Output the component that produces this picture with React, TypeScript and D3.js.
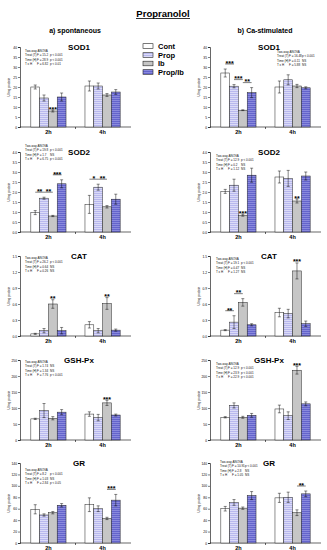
import { useRef, useEffect } from "react";
import { select, scaleBand, scaleLinear, axisLeft, range, max } from "d3";

const groups = ["2h", "4h"];
const treatments = ["Cont", "Prop", "Ib", "Prop/Ib"];
const enzymes = ["SOD1", "SOD2", "CAT", "GSH-Px", "GR"];

// y axis per enzyme: max, step, decimals
const yMax = [40, 4, 1.5, 250, 140];
const yStep = [5, 0.5, 0.3, 50, 20];
const yDec = [0, 1, 1, 0, 0];

// a) spontaneous  -> [2h values, 4h values]
const spMean = [
  [[20, 14.5, 8, 15], [20.5, 20.5, 16, 17.5]],
  [[0.97, 1.69, 0.8, 2.41], [1.38, 2.24, 1.26, 1.64]],
  [[0.04, 0.1, 0.6, 0.1], [0.21, 0.1, 0.61, 0.11]],
  [[66, 92, 68, 87], [81, 70, 116, 78]],
  [[59, 49, 53, 66], [67, 60, 43, 75]],
];
const spSem = [
  [[1, 1.5, 0.5, 2], [2.5, 1.5, 0.7, 1.2]],
  [[0.1, 0.05, 0.03, 0.2], [0.45, 0.15, 0.06, 0.25]],
  [[0.01, 0.04, 0.08, 0.06], [0.06, 0.04, 0.11, 0.02]],
  [[2, 22, 5, 8], [7, 10, 8, 3]],
  [[8, 2, 2, 3], [12, 5, 2, 10]],
];
// b) Ca-stimulated
const caMean = [
  [[27, 20.4, 8.4, 17.2], [20, 23.6, 20.5, 19.6]],
  [[2.03, 2.34, 0.84, 2.84], [2.75, 2.68, 1.55, 2.8]],
  [[0.11, 0.26, 0.63, 0.21], [0.44, 0.42, 1.22, 0.23]],
  [[71, 108, 71, 77], [97, 76, 218, 113]],
  [[60, 71, 61, 83], [79, 80, 53, 86]],
];
const caSem = [
  [[2, 0.8, 0.2, 2.5], [3, 2.5, 0.8, 0.5]],
  [[0.1, 0.3, 0.05, 0.35], [0.3, 0.4, 0.1, 0.2]],
  [[0.01, 0.12, 0.07, 0.02], [0.08, 0.08, 0.15, 0.05]],
  [[2, 8, 3, 6], [12, 12, 12, 6]],
  [[4, 5, 2, 7], [8, 9, 5, 5]],
];

const spAnova = [
  ["Treat (T)|F = 15.2|p < 0.001", "Time (H)|F = 28.9|p < 0.001", "T x H|F = 6.82|p < 0.01"],
  ["Treat (T)|F = 19.8|p < 0.001", "Time (H)|F = 1.7|NS", "T x H|F = 6.75|p < 0.001"],
  ["Treat (T)|F = 26.2|p < 0.001", "Time (H)|F = 0.64|NS", "T x H|F = 0.26|NS"],
  ["Treat (T)|F = 1.74|NS", "Time (H)|F = 1.34|NS", "T x H|F = 7.76|p < 0.001"],
  ["Treat (T)|F = 8.2|p < 0.001", "Time (H)|F = 1.03|NS", "T x H|F = 2.84|p < 0.05"],
];
const caAnova = [
  ["Treat (T)|F = 16.48|p < 0.001", "Time (H)|F = 0.11|NS", "T x H|F = 5.88|NS"],
  ["Treat (T)|F = 12.9|p < 0.001", "Time (H)|F = 0.2|NS", "T x H|F = 1.12|NS"],
  ["Treat (T)|F = 19.1|p < 0.001", "Time (H)|F = 0.47|NS", "T x H|F = 1.27|NS"],
  ["Treat (T)|F = 12.9|p < 0.001", "Time (H)|F = 23.9|p < 0.001", "T x H|F = 22.9|p < 0.001"],
  ["Treat (T)|F = 10.91|p < 0.001", "Time (H)|F = 2.8|NS", "T x H|F = 1.05|NS"],
];

// significance: [group, from, to, label]
const spSig = [
  [["2h", "Ib", "Ib", "***"]],
  [["2h", "Cont", "Prop", "**"], ["2h", "Prop", "Ib", "**"], ["2h", "Ib", "Prop/Ib", "***"], ["4h", "Cont", "Prop", "*"], ["4h", "Prop", "Ib", "**"]],
  [["2h", "Ib", "Ib", "**"], ["4h", "Ib", "Ib", "**"]],
  [["4h", "Ib", "Ib", "***"]],
  [["4h", "Ib", "Prop/Ib", "***"]],
];
const caSig = [
  [["2h", "Cont", "Prop", "***"], ["2h", "Prop", "Ib", "***"], ["2h", "Ib", "Prop/Ib", "**"]],
  [["2h", "Ib", "Ib", "***"], ["4h", "Ib", "Ib", "**"]],
  [["2h", "Cont", "Prop", "**"], ["2h", "Prop", "Ib", "**"], ["4h", "Ib", "Ib", "***"]],
  [["4h", "Ib", "Ib", "***"]],
  [["4h", "Ib", "Prop/Ib", "**"]],
];

const font = "Arial, 'Liberation Sans', sans-serif";
const baselines = [127, 232, 336, 440, 543];
const plotH = 80;
const plotW = 111;
const cols = [
  { x0: 20, title: "a) spontaneous", mean: spMean, sem: spSem, anova: spAnova, sig: spSig, ax: [25, 25, 25, 25, 25], ay: [-76, -86, -78, -78, -73] },
  { x0: 210, title: "b) Ca-stimulated", mean: caMean, sem: caSem, anova: caAnova, sig: caSig, ax: [277, 216, 216, 216, 220], ay: [-75, -76, -77, -76, -81] },
];

const fills = { Cont: "#ffffff", Prop: "url(#pProp)", Ib: "#c6c6c6", "Prop/Ib": "url(#pPropIb)" };

const draw = (ref: SVGSVGElement) => {
  const svg = select(ref);
  svg.selectAll("*").remove();

  const defs = svg.append("defs");
  const pat = (id: string, base: string, line: string) => {
    const p = defs.append("pattern").attr("id", id).attr("patternUnits", "userSpaceOnUse").attr("width", 4).attr("height", 2);
    p.append("rect").attr("width", 4).attr("height", 2).attr("fill", base);
    p.append("rect").attr("y", 0).attr("width", 4).attr("height", 0.8).attr("fill", line);
  };
  pat("pProp", "#b8b8ee", "#e4e4fa");
  pat("pPropIb", "#6464cc", "#9292e2");

  svg.style("font-family", font);

  // title
  svg.append("text").attr("x", 163).attr("y", 16.5).attr("text-anchor", "middle")
    .attr("font-size", 9.5).attr("font-weight", 700).text("Propranolol");
  svg.append("line").attr("x1", 136).attr("x2", 190).attr("y1", 18.5).attr("y2", 18.5).attr("stroke", "#000").attr("stroke-width", 0.8);

  // legend
  const leg = svg.append("g");
  treatments.forEach((t, i) => {
    const y = [46, 55, 63.5, 72][i];
    leg.append("rect").attr("x", 143).attr("y", y - 2.3).attr("width", 10).attr("height", 4.6)
      .attr("fill", fills[t]).attr("stroke", "#222").attr("stroke-width", 0.6);
    leg.append("text").attr("x", 158).attr("y", y + 2.8).attr("font-size", 7.5).attr("font-weight", 700).text(t);
  });

  cols.forEach((c) => {
    svg.append("text").attr("x", c.x0 + 55).attr("y", 32.5).attr("text-anchor", "middle")
      .attr("font-size", 7).attr("font-weight", 700).text(c.title);

    const gx = scaleBand().domain(groups).range([c.x0, c.x0 + plotW]).paddingInner(0.35).paddingOuter(0.2);
    const bx = scaleBand().domain(treatments).range([0, gx.bandwidth()]).padding(0);

    enzymes.forEach((enz, ei) => {
      const base = baselines[ei];
      const y = scaleLinear().domain([0, yMax[ei]]).range([base, base - plotH]);
      const g = svg.append("g");

      // title
      g.append("text").attr("x", c.x0 + 59).attr("y", base - plotH + 3).attr("text-anchor", "middle")
        .attr("font-size", 8).attr("font-weight", 700).text(enz);

      // y axis
      const ticks = range(0, yMax[ei] + yStep[ei] / 2, yStep[ei]);
      const ya = g.append("g").attr("transform", `translate(${c.x0},0)`)
        .call(axisLeft(y).tickValues(ticks).tickSize(2).tickPadding(1).tickFormat((d: any) => d.toFixed(yDec[ei])));
      ya.select(".domain").attr("stroke-width", 0.6);
      ya.selectAll(".tick line").attr("stroke-width", 0.5);
      ya.selectAll("text").attr("font-size", 3.3).attr("font-family", font);

      g.append("text").attr("transform", `translate(${c.x0 - 10},${base - plotH / 2}) rotate(-90)`)
        .attr("text-anchor", "middle").attr("font-size", 3.3).text("U/mg protein");

      // x axis
      g.append("line").attr("x1", c.x0).attr("x2", c.x0 + plotW).attr("y1", base).attr("y2", base)
        .attr("stroke", "#000").attr("stroke-width", 0.6);
      const mid = ((gx("2h") as number) + gx.bandwidth() + (gx("4h") as number)) / 2;
      g.append("line").attr("x1", mid).attr("x2", mid).attr("y1", base).attr("y2", base + 2)
        .attr("stroke", "#000").attr("stroke-width", 0.6);
      groups.forEach((gr) => {
        g.append("text").attr("x", (gx(gr) as number) + gx.bandwidth() / 2).attr("y", base + 7)
          .attr("text-anchor", "middle").attr("font-size", 5.5).attr("font-weight", 700).text(gr);
      });

      // bars
      groups.forEach((gr, gi) => {
        treatments.forEach((t, ti) => {
          const m = c.mean[ei][gi][ti];
          const s = c.sem[ei][gi][ti];
          const x = (gx(gr) as number) + (bx(t) as number);
          g.append("rect").attr("x", x).attr("y", y(m)).attr("width", bx.bandwidth()).attr("height", base - y(m))
            .attr("fill", fills[t]).attr("stroke", "#222").attr("stroke-width", 0.5);
          const cx = x + bx.bandwidth() / 2;
          g.append("line").attr("x1", cx).attr("x2", cx).attr("y1", y(m - s)).attr("y2", y(m + s))
            .attr("stroke", "#111").attr("stroke-width", 0.5);
          [m - s, m + s].forEach((v) => {
            g.append("line").attr("x1", cx - 1.5).attr("x2", cx + 1.5).attr("y1", y(v)).attr("y2", y(v))
              .attr("stroke", "#111").attr("stroke-width", 0.5);
          });
        });
      });

      // significance
      c.sig[ei].forEach(([gr, a, b, lab]) => {
        const gi = groups.indexOf(gr);
        const ia = treatments.indexOf(a);
        const ib = treatments.indexOf(b);
        const top = max(range(ia, ib + 1), (k) => c.mean[ei][gi][k] + c.sem[ei][gi][k]) as number;
        const xa = (gx(gr) as number) + (bx(a) as number) + bx.bandwidth() / 2;
        const xb = (gx(gr) as number) + (bx(b) as number) + bx.bandwidth() / 2;
        if (ia === ib) {
          g.append("text").attr("x", xa).attr("y", y(top) + 1.5).attr("text-anchor", "middle")
            .attr("font-size", 7).attr("font-weight", 700).text(lab);
        } else {
          const ly = y(top) - 5;
          g.append("line").attr("x1", xa).attr("x2", xb).attr("y1", ly).attr("y2", ly)
            .attr("stroke", "#000").attr("stroke-width", 0.5);
          g.append("text").attr("x", (xa + xb) / 2).attr("y", ly + 1.8).attr("text-anchor", "middle")
            .attr("font-size", 7).attr("font-weight", 700).text(lab);
        }
      });

      // anova box
      const ax = c.ax[ei];
      const ay = base + c.ay[ei];
      const an = g.append("g").attr("font-size", 3).attr("fill", "#111");
      an.append("text").attr("x", ax).attr("y", ay + 1).text("Two-way ANOVA");
      c.anova[ei].forEach((ln, li) => {
        const parts = ln.split("|");
        const yy = ay + 1 + (li + 1) * 4.3;
        an.append("text").attr("x", ax).attr("y", yy).text(parts[0]);
        an.append("text").attr("x", ax + 12).attr("y", yy).text(parts[1]);
        an.append("text").attr("x", ax + 25).attr("y", yy).text(parts[2]);
      });
    });
  });
};

export default function App() {
  const ref = useRef<SVGSVGElement>(null);
  useEffect(() => {
    if (ref.current) draw(ref.current);
  }, []);
  return (
    <svg ref={ref} width={327} height={550} style={{ position: "absolute", left: 0, top: 0, background: "#fff" }} />
  );
}
